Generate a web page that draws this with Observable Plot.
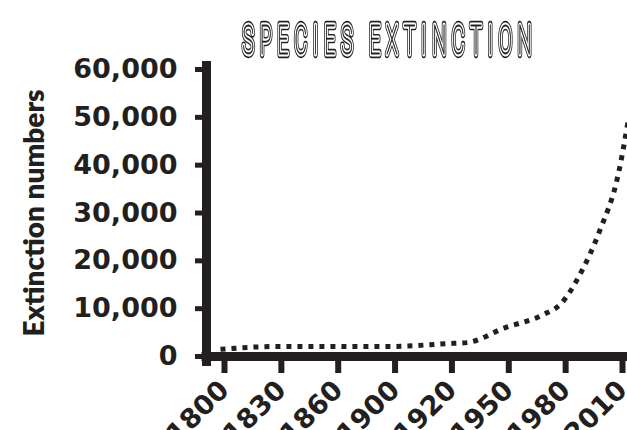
<!DOCTYPE html>
<html><head><meta charset="utf-8">
<script src="https://cdn.jsdelivr.net/npm/d3@7"></script>
<script src="https://cdn.jsdelivr.net/npm/@observablehq/plot@0.6"></script>
<style>
html,body{margin:0;padding:0;background:#fff;overflow:hidden;}
#title{height:58px;width:627px;overflow:visible;position:relative;z-index:1;}
#title svg{position:absolute;left:0;top:0;overflow:visible;filter:grayscale(1);}
#chart svg{display:block;overflow:hidden;}
</style></head><body>
<div id="title"></div>
<div id="chart"></div>
<script>
const titleText = "SPECIES EXTINCTION";
const yAxisTitle = "Extinction numbers";
const tickYears = [1800, 1830, 1860, 1900, 1920, 1950, 1980, 2010];
const yTicks = [0, 10000, 20000, 30000, 40000, 50000, 60000];
const lineYears = [1800, 1830, 1860, 1900, 1920, 1930, 1950, 1970, 1980, 1990, 2000, 2010, 2015];
const lineValues = [1500, 2100, 2100, 2100, 2700, 2900, 6000, 8700, 11200, 17400, 26200, 38300, 49000];
const ink = "#231f20";
const tickFont = "'DejaVu Sans', sans-serif";
const labelFont = "Lato, 'Open Sans', sans-serif";

const data = lineYears.map((year, i) => ({year, value: lineValues[i]}));

// Title (inline outlined lettering)
(function drawTitle() {
  const tsvg = d3.select("#title").append("svg").attr("width", 627).attr("height", 62);
  const g = tsvg.append("g");
  const layers = [
    {fill: ink, stroke: ink, sw: 6.5},
    {fill: "#fff", stroke: "#fff", sw: 4},
    {fill: ink, stroke: ink, sw: 0.6}
  ];
  const texts = layers.map(l => g.append("text")
    .text(titleText)
    .attr("text-anchor", "middle")
    .attr("font-family", "Roboto, 'DejaVu Sans', sans-serif")
    .attr("font-weight", 100)
    .attr("font-size", 40)
    .attr("fill", l.fill)
    .attr("stroke", l.stroke)
    .attr("stroke-width", l.sw)
    .attr("stroke-linejoin", "round")
    .attr("vector-effect", "non-scaling-stroke"));
  const len0 = texts[0].node().getComputedTextLength();
  const gap = 6, n = titleText.length - 1;
  const s = (289 - n * gap) / len0;
  const L = gap / s;
  texts.forEach(t => t.attr("letter-spacing", L));
  g.attr("transform", `translate(${387 + L * s / 2},54) scale(${s},1)`);
})();

const chart = Plot.plot({
  width: 627,
  height: 372,
  marginTop: 11,
  marginBottom: 74,
  marginLeft: 206,
  marginRight: 9,
  style: {fontFamily: tickFont, fontWeight: 700, fontSize: "27px", color: ink, background: "#fff", overflow: "hidden"},
  x: {type: "linear", domain: tickYears, insetLeft: 14},
  y: {domain: [0, 60000]},
  marks: [
    Plot.axisY({ticks: yTicks, tickSize: 11, tickPadding: 18, strokeWidth: 5, tickFormat: d3.format(","), label: null}),
    Plot.axisX({ticks: tickYears, tickSize: 17, tickPadding: 12, tickRotate: -45, strokeWidth: 6, dx: 4, tickFormat: d => String(d), label: null}),
    Plot.frame({anchor: "left", stroke: ink, strokeWidth: 9, insetTop: -4, insetBottom: -5}),
    Plot.ruleY([0], {stroke: ink, strokeWidth: 9, insetLeft: -4.5, insetRight: -20}),
    Plot.line(data, {x: "year", y: "value", curve: "monotone-x", stroke: ink, strokeWidth: 5, strokeDasharray: "5,6", strokeLinecap: "butt"}),
    Plot.text([yAxisTitle], {text: d => d, frameAnchor: "left", textAnchor: "middle", dx: -171, rotate: -90, fontFamily: labelFont, fontSize: 28, fontWeight: 800, fill: ink})
  ]
});
document.getElementById("chart").appendChild(chart);
</script>
</body></html>
